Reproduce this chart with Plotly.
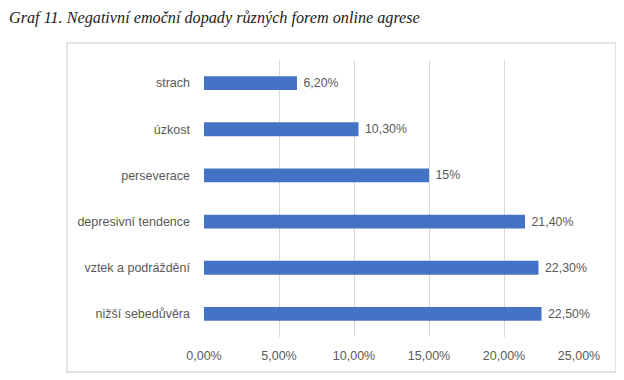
import plotly.graph_objects as go

categories = ["strach", "úzkost", "perseverace", "depresivní tendence", "vztek a podráždění", "nižší sebedůvěra"]
values = [0.062, 0.103, 0.15, 0.214, 0.223, 0.225]
value_labels = ["6,20%", "10,30%", "15%", "21,40%", "22,30%", "22,50%"]
tick_vals = [0, 0.05, 0.10, 0.15, 0.20, 0.25]
tick_text = ["0,00%", "5,00%", "10,00%", "15,00%", "20,00%", "25,00%"]
title_text = "Graf 11. Negativní emoční dopady různých forem online agrese"

# page body has an 8px margin; figure coordinates are page coordinates minus 8
OFF = 8
W, H = 624 - OFF, 380 - OFF
L, T = 204 - OFF, 60 - OFF
R = (624 - 579)
B = (380 - 337)
pw, ph = W - L - R, H - T - B

def px(x):
    return (x - OFF - L) / pw

def py(y):
    return (H - B - (y - OFF)) / ph

fig = go.Figure(go.Bar(
    y=categories, x=values, orientation="h",
    marker=dict(color="#4472C4", line=dict(width=0)),
    width=0.3,
    text=value_labels, texttemplate="\u00a0%{text}", textposition="outside",
    textfont=dict(color="#595959", size=12.5, family="Liberation Sans"),
    cliponaxis=False,
))

fig.update_layout(
    width=W, height=H,
    margin=dict(l=L, r=R, t=T, b=B),
    paper_bgcolor="white", plot_bgcolor="white",
    font=dict(family="Liberation Sans", size=12.5, color="#595959"),
    showlegend=False,
    xaxis=dict(range=[0, 0.25], tickvals=tick_vals, ticktext=tick_text,
               showgrid=True, gridcolor="#d9d9d9", gridwidth=1,
               zeroline=False, showline=False, ticks="", ticklabelstandoff=9,
               fixedrange=True),
    yaxis=dict(autorange="reversed", showgrid=False, zeroline=False,
               showline=False, ticks="", ticklabelstandoff=13),
    shapes=[dict(type="rect", xref="paper", yref="paper",
                 x0=px(67), x1=px(616), y0=py(372), y1=py(43),
                 line=dict(color="#d9d9d9", width=1.5), layer="below")],
    annotations=[dict(text=title_text, xref="paper", yref="paper",
                      x=px(8), y=py(8), xanchor="left", yanchor="top",
                      showarrow=False, borderpad=0,
                      font=dict(family="Liberation Serif", size=16.2, color="#222222", style="italic"))],
)

fig.write_html("out.html")
